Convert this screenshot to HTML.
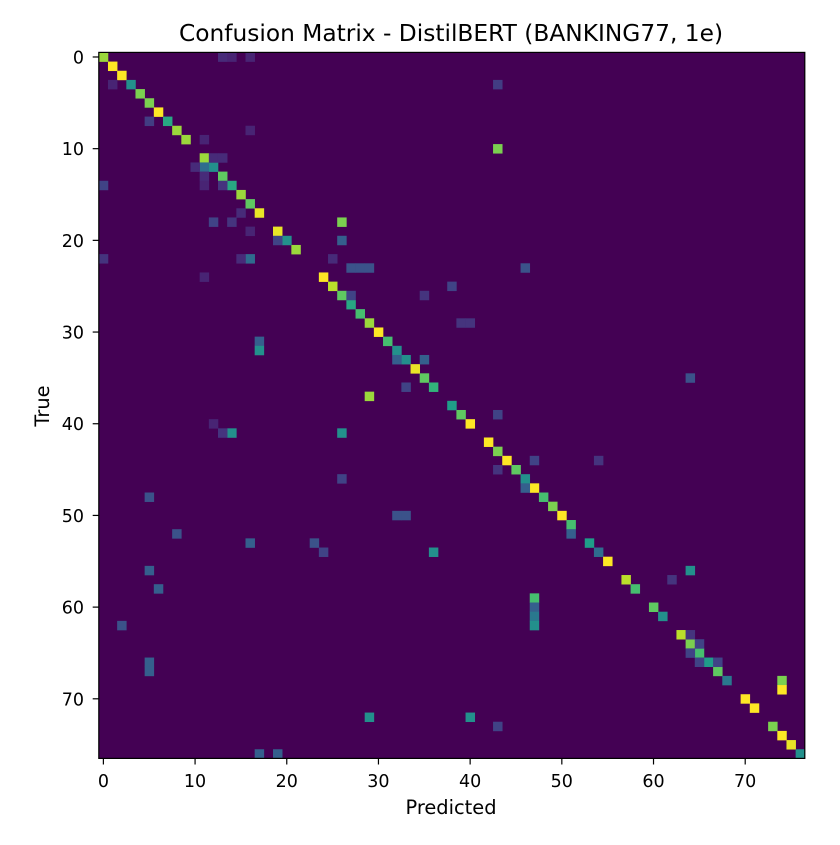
<!DOCTYPE html>
<html><head><meta charset="utf-8"><style>
body{margin:0;background:#fff;}
svg text{font-family:"DejaVu Sans","Liberation Sans",sans-serif;fill:#000;}
</style></head><body>
<svg id="chart" width="840" height="840" xmlns="http://www.w3.org/2000/svg">
<rect width="840" height="840" fill="#fff"/>
<text x="451" y="41" font-size="23.3" text-anchor="middle">Confusion Matrix - DistilBERT (BANKING77, 1e)</text>
<text x="451" y="814" font-size="19.4" text-anchor="middle">Predicted</text>
<text x="49" y="406" font-size="19.4" text-anchor="middle" transform="rotate(-90 49 406)">True</text>
<g id="cells"></g>
<rect x="98.8" y="52.4" width="706" height="706" fill="none" stroke="#000" stroke-width="1.2"/>
<g id="ticks"></g>
</svg>
<script>
const n = 77;
const tickLabels = [0,10,20,30,40,50,60,70];
// diagonal value per class (normalized 0..1)
const diagValues = [0.85,1,1,0.5,0.8,0.8,1,0.6,0.85,0.85,0,0.85,0.5,0.75,0.6,0.85,0.75,0.97,0,0.97,0.5,0.85,0,0,1,0.9,0.75,0.6,0.7,0.85,1,0.7,0.5,0.5,0.97,0.75,0.65,0,0.55,0.75,1,0,1,0.8,1,0.75,0.5,1,0.7,0.8,1,0.7,0,0.55,0.35,1,0,0.9,0.7,0,0.75,0.5,0,0.9,0.8,0.7,0.55,0.75,0.4,0,1,1,0,0.8,1,0.97,0.5];
// off-diagonal entries (row, col, value), grouped in tens
const offRows = [
 0,0,0,3,3,7,8,9,10,11,
 11,12,12,13,14,14,14,17,18,18,
 18,19,20,20,22,22,22,22,23,23,
 23,23,24,26,29,29,31,32,33,33,
 35,36,37,39,40,41,41,41,44,45,
 46,47,48,50,50,52,52,53,53,54,
 54,56,56,57,58,59,60,61,62,62,
 63,64,65,66,66,66,67,68,69,72,
 72,73,76,76,26,44,25];
const offCols = [
 13,14,16,1,43,5,16,11,43,12,
 13,11,10,11,0,11,13,15,14,12,
 26,16,19,26,0,16,15,25,27,28,
 29,46,11,27,39,40,17,17,32,35,
 64,33,29,43,12,14,26,13,47,43,
 26,46,5,32,33,8,51,16,23,24,
 36,5,64,62,6,47,47,47,47,2,
 64,65,64,5,65,67,5,74,74,29,
 40,43,17,19,35,54,38];
const offValues = [
 0.12,0.1,0.1,0.1,0.18,0.18,0.1,0.1,0.8,0.12,
 0.12,0.35,0.12,0.12,0.2,0.1,0.15,0.12,0.15,0.2,
 0.8,0.1,0.2,0.3,0.15,0.35,0.12,0.12,0.25,0.25,
 0.25,0.25,0.1,0.2,0.15,0.15,0.3,0.5,0.3,0.3,
 0.25,0.2,0.85,0.2,0.1,0.5,0.5,0.15,0.2,0.15,
 0.2,0.3,0.25,0.25,0.25,0.25,0.3,0.3,0.25,0.2,
 0.5,0.3,0.5,0.15,0.3,0.7,0.3,0.4,0.5,0.25,
 0.15,0.2,0.2,0.3,0.2,0.2,0.3,0.8,1,0.5,
 0.5,0.2,0.3,0.3,0.15,0.15,0.2];

const x0 = 98.8, y0 = 52.4, cs = 706 / n;
function xs(c){ return x0 + c*cs; }
function ys(r){ return y0 + r*cs; }
const vstops = [[68,1,84],[72,40,120],[62,74,137],[49,104,142],[38,130,142],[31,158,137],[53,183,121],[109,205,89],[180,222,44],[253,231,37]];
function viridis(t){
  t = Math.max(0, Math.min(1, t)) * (vstops.length-1);
  const i = Math.min(Math.floor(t), vstops.length-2), f = t - i;
  const a = vstops[i], b = vstops[i+1];
  return 'rgb(' + a.map((v,k)=>Math.round(v+(b[k]-v)*f)).join(',') + ')';
}
const NS = 'http://www.w3.org/2000/svg';
const g = document.getElementById('cells');
const bg = document.createElementNS(NS,'rect');
bg.setAttribute('x', xs(0)); bg.setAttribute('y', ys(0));
bg.setAttribute('width', xs(n)-xs(0)); bg.setAttribute('height', ys(n)-ys(0));
bg.setAttribute('fill', viridis(0));


g.appendChild(bg);
function cell(r, c, v, name){
  if (v <= 0) return;
  const el = document.createElementNS(NS,'rect');
  el.setAttribute('x', xs(c)); el.setAttribute('y', ys(r));
  el.setAttribute('width', cs+0.3); el.setAttribute('height', cs+0.3);
  el.setAttribute('fill', viridis(v));
  
  
  g.appendChild(el);
}
diagValues.forEach((v,i)=>cell(i, i, v, 'heatmap-cell-diagonal'));
offRows.forEach((r,i)=>cell(r, offCols[i], offValues[i], 'heatmap-cell'));
const tg = document.getElementById('ticks');
tickLabels.forEach(t=>{
  const cx = xs(t)+cs/2, cy = ys(t)+cs/2;
  const xt = document.createElementNS(NS,'line');
  xt.setAttribute('x1', cx); xt.setAttribute('x2', cx); xt.setAttribute('y1', 758.4); xt.setAttribute('y2', 764.5);
  xt.setAttribute('stroke', '#000'); xt.setAttribute('stroke-width', '1.2');
  
  
  tg.appendChild(xt);
  const xl = document.createElementNS(NS,'text');
  xl.setAttribute('x', cx); xl.setAttribute('y', 787); xl.setAttribute('font-size', '17.5'); xl.setAttribute('text-anchor', 'middle');
  xl.textContent = t;
  
  
  tg.appendChild(xl);
  const yt = document.createElementNS(NS,'line');
  yt.setAttribute('x1', 92.7); yt.setAttribute('x2', 98.8); yt.setAttribute('y1', cy); yt.setAttribute('y2', cy);
  yt.setAttribute('stroke', '#000'); yt.setAttribute('stroke-width', '1.2');
  
  
  tg.appendChild(yt);
  const yl = document.createElementNS(NS,'text');
  yl.setAttribute('x', 84); yl.setAttribute('y', cy+6.5); yl.setAttribute('font-size', '17.5'); yl.setAttribute('text-anchor', 'end');
  yl.textContent = t;
  
  
  tg.appendChild(yl);
});
</script>
</body></html>
